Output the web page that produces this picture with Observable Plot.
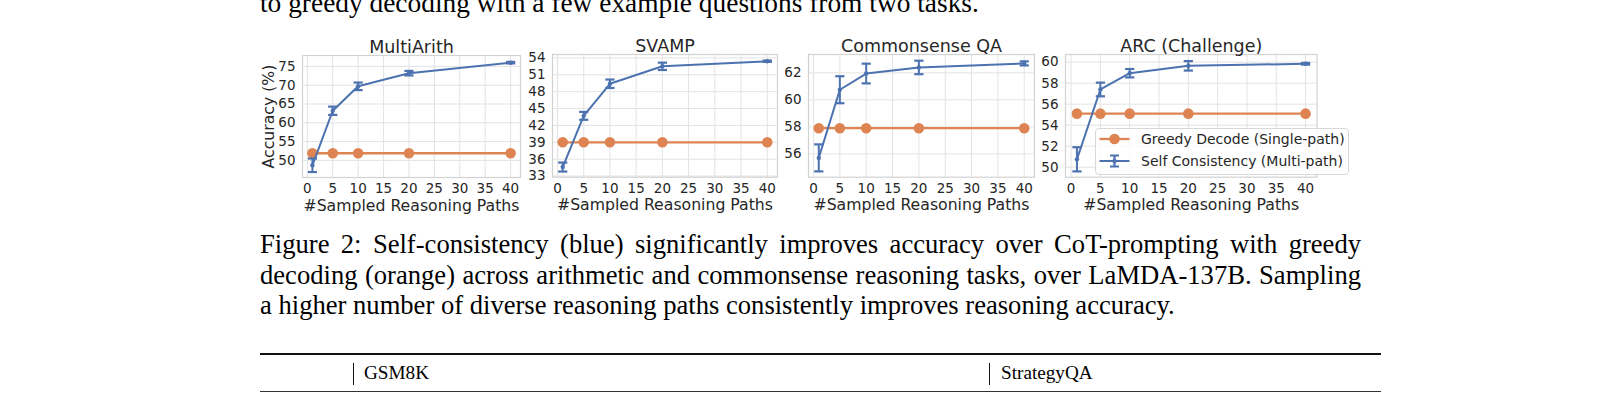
<!DOCTYPE html>
<html>
<head>
<meta charset="utf-8">
<script src="https://cdn.jsdelivr.net/npm/d3@7"></script>
<script src="https://cdn.jsdelivr.net/npm/@observablehq/plot@0.6"></script>
<style>
  html, body { margin: 0; padding: 0; background: #fff; }
  #page { position: relative; width: 1618px; height: 397px; overflow: hidden; background: #fff; }
  .serif { position: absolute; font-family: "Liberation Serif", "Times New Roman", serif; color: #000; white-space: nowrap; }
  .cap { font-size: 26.6px; line-height: 30.6px; width: 1101px; }
  .just { text-align: justify; text-align-last: justify; white-space: normal; }
  .panel { position: absolute; }
  .panel svg { overflow: visible; }
  .rule { position: absolute; background: #111; }
  #legend { position: absolute; box-sizing: border-box; border: 1px solid #d8d8d8; border-radius: 4px;
            background: rgba(255,255,255,0.8); font-family: "DejaVu Sans", sans-serif; font-size: 14px; color: #262626; }
  #legend .row { position: absolute; left: 0; height: 20px; display: flex; align-items: center; white-space: nowrap; }
</style>
</head>
<body>
<div id="page"></div>
<script>
// ---------------- data ----------------
const xs = [1, 5, 10, 20, 40];
const xTicks = [0, 5, 10, 15, 20, 25, 30, 35, 40];
const titles = ["MultiArith", "SVAMP", "Commonsense QA", "ARC (Challenge)"];
const seriesNames = ["Greedy Decode (Single-path)", "Self Consistency (Multi-path)"];
const xLabel = "#Sampled Reasoning Paths";
const yLabel = "Accuracy (%)";

const multiArithSC = [48.7, 63.2, 69.7, 73.2, 76.0];
const multiArithErr = [1.8, 1.1, 1.0, 0.6, 0.2];
const multiArithGreedy = [51.9, 51.9, 51.9, 51.9, 51.9];
const multiArithTicks = [50, 55, 60, 65, 70, 75];

const svampSC = [34.6, 43.7, 49.4, 52.5, 53.4];
const svampErr = [0.8, 0.7, 0.75, 0.65, 0.12];
const svampGreedy = [39.0, 39.0, 39.0, 39.0, 39.0];
const svampTicks = [33, 36, 39, 42, 45, 48, 51, 54];

const csqaSC = [55.7, 60.75, 61.95, 62.4, 62.7];
const csqaErr = [1.0, 1.0, 0.73, 0.5, 0.15];
const csqaGreedy = [57.9, 57.9, 57.9, 57.9, 57.9];
const csqaTicks = [56, 58, 60, 62];

const arcSC = [50.75, 57.4, 58.95, 59.65, 59.85];
const arcErr = [1.15, 0.65, 0.4, 0.45, 0.08];
const arcGreedy = [55.1, 55.1, 55.1, 55.1, 55.1];
const arcTicks = [50, 52, 54, 56, 58, 60];

const topText = "to greedy decoding with a few example questions from two tasks.";
const captionLines = [
  "Figure 2: Self-consistency (blue) significantly improves accuracy over CoT-prompting with greedy",
  "decoding (orange) across arithmetic and commonsense reasoning tasks, over LaMDA-137B. Sampling",
  "a higher number of diverse reasoning paths consistently improves reasoning accuracy."
];
const tableHeaders = ["GSM8K", "StrategyQA"];

// ---------------- style / layout ----------------
const BLUE = "#4c72b0", ORANGE = "#dd8452", INK = "#262626";
const ML = 50, MR = 10, MT = 28, MB = 45;
const panels = [
  {title: titles[0], sc: multiArithSC, err: multiArithErr, greedy: multiArithGreedy, ticks: multiArithTicks,
   yDomain: [45.45, 77.9], left: 301.8, top: 55, fw: 218, fh: 122, ylabel: yLabel},
  {title: titles[1], sc: svampSC, err: svampErr, greedy: svampGreedy, ticks: svampTicks,
   yDomain: [32.8, 54.6], left: 551.7, top: 54, fw: 225, fh: 122.7},
  {title: titles[2], sc: csqaSC, err: csqaErr, greedy: csqaGreedy, ticks: csqaTicks,
   yDomain: [54.27, 63.36], left: 807.5, top: 54, fw: 226, fh: 122.7},
  {title: titles[3], sc: arcSC, err: arcErr, greedy: arcGreedy, ticks: arcTicks,
   yDomain: [49.05, 60.73], left: 1065.3, top: 54, fw: 251.5, fh: 122.7}
];

const capSymbol = {
  draw(context, size) {
    const w = Math.sqrt(size / Math.PI);
    context.moveTo(-w, 0);
    context.lineTo(w, 0);
  }
};

const page = document.getElementById("page");

function makePanel(cfg) {
  const sc = xs.map((x, i) => ({x, y: cfg.sc[i], lo: cfg.sc[i] - cfg.err[i], hi: cfg.sc[i] + cfg.err[i]}));
  const gr = xs.map((x, i) => ({x, y: cfg.greedy[i]}));
  const marks = [
    Plot.gridX(xTicks, {stroke: "#e3e3e3", strokeOpacity: 1, strokeWidth: 1}),
    Plot.gridY(cfg.ticks, {stroke: "#e3e3e3", strokeOpacity: 1, strokeWidth: 1}),
    Plot.frame({stroke: "#d2d2d2", strokeWidth: 1.2}),
    Plot.axisX({ticks: xTicks, tickSize: 0, tickPadding: 6, label: null, fontSize: 13.5, fill: INK}),
    Plot.axisY({ticks: cfg.ticks, tickSize: 0, tickPadding: 7, label: null, fontSize: 13.5, fill: INK}),
    Plot.line(gr, {x: "x", y: "y", stroke: ORANGE, strokeWidth: 2.3}),
    Plot.dot(gr, {x: "x", y: "y", r: 5.3, fill: ORANGE, stroke: "none"}),
    Plot.line(sc, {x: "x", y: "y", stroke: BLUE, strokeWidth: 2}),
    Plot.ruleX(sc, {x: "x", y1: "lo", y2: "hi", stroke: BLUE, strokeWidth: 2}),
    Plot.dot(sc, {x: "x", y: "lo", symbol: capSymbol, r: 4.6, fill: "none", stroke: BLUE, strokeWidth: 2.2}),
    Plot.dot(sc, {x: "x", y: "hi", symbol: capSymbol, r: 4.6, fill: "none", stroke: BLUE, strokeWidth: 2.2}),
    Plot.dot(sc, {x: "x", y: "y", r: 2.2, fill: BLUE, stroke: "none"}),
    Plot.text([cfg.title], {frameAnchor: "top", textAnchor: "middle", lineAnchor: "bottom", dy: -2.6, fontSize: 17.5, fill: INK}),
    Plot.text([xLabel], {frameAnchor: "bottom", textAnchor: "middle", lineAnchor: "bottom", dy: 33, fontSize: 15.7, fill: INK})
  ];
  if (cfg.ylabel) {
    marks.push(Plot.text([cfg.ylabel], {frameAnchor: "left", textAnchor: "middle", lineAnchor: "middle",
                                         rotate: -90, dx: -34, fontSize: 15.7, fill: INK}));
  }
  const svg = Plot.plot({
    width: cfg.fw + ML + MR,
    height: cfg.fh + MT + MB,
    marginLeft: ML, marginRight: MR, marginTop: MT, marginBottom: MB,
    style: {fontFamily: "DejaVu Sans", fontSize: "13.5px", color: INK, background: "transparent", overflow: "visible"},
    x: {type: "linear", domain: [-0.95, 41.95]},
    y: {type: "linear", domain: cfg.yDomain},
    marks
  });
  const holder = document.createElement("div");
  holder.className = "panel";
  holder.style.left = (cfg.left - ML) + "px";
  holder.style.top = (cfg.top - MT) + "px";
  holder.appendChild(svg);
  page.appendChild(holder);
}
panels.forEach(makePanel);

// ---------------- legend (in ARC panel) ----------------
const legend = document.createElement("div");
legend.id = "legend";
Object.assign(legend.style, {left: "1095px", top: "127.5px", width: "254px", height: "47px"});
const rowCenters = [10.8, 32.2];
seriesNames.forEach((name, i) => {
  const row = document.createElement("div");
  row.className = "row";
  row.style.top = (rowCenters[i] - 10) + "px";
  const ns = "http://www.w3.org/2000/svg";
  const s = document.createElementNS(ns, "svg");
  s.setAttribute("width", 45); s.setAttribute("height", 20);
  s.style.flex = "none";
  const ln = document.createElementNS(ns, "line");
  ln.setAttribute("x1", 3.5); ln.setAttribute("x2", 33.5); ln.setAttribute("y1", 10); ln.setAttribute("y2", 10);
  ln.setAttribute("stroke", i === 0 ? ORANGE : BLUE); ln.setAttribute("stroke-width", i === 0 ? 2.3 : 2);
  s.appendChild(ln);
  if (i === 0) {
    const c = document.createElementNS(ns, "circle");
    c.setAttribute("cx", 18.5); c.setAttribute("cy", 10); c.setAttribute("r", 5.3); c.setAttribute("fill", ORANGE);
    s.appendChild(c);
  } else {
    const p = document.createElementNS(ns, "path");
    p.setAttribute("d", "M18.5,4.5V15.5M14,4.5H23M14,15.5H23");
    p.setAttribute("stroke", BLUE); p.setAttribute("stroke-width", 2.2); p.setAttribute("fill", "none");
    s.appendChild(p);
    const c = document.createElementNS(ns, "circle");
    c.setAttribute("cx", 18.5); c.setAttribute("cy", 10); c.setAttribute("r", 2.2); c.setAttribute("fill", BLUE);
    s.appendChild(c);
  }
  row.appendChild(s);
  const t = document.createElement("span");
  t.textContent = name;
  row.appendChild(t);
  legend.appendChild(row);
});
page.appendChild(legend);

// ---------------- surrounding paper text ----------------
function addText(text, cls, left, top, extra) {
  const d = document.createElement("div");
  d.className = cls;
  d.textContent = text;
  d.style.left = left + "px";
  d.style.top = top + "px";
  if (extra) Object.assign(d.style, extra);
  page.appendChild(d);
  return d;
}
addText(topText, "serif cap", 260, -12, {width: "auto", fontSize: "27.4px"});
addText(captionLines[0], "serif cap just", 260, 229);
addText(captionLines[1], "serif cap just", 260, 259.6);
addText(captionLines[2], "serif cap", 260, 290.2, {width: "auto"});

function addRule(left, top, width, height, color) {
  const r = document.createElement("div");
  r.className = "rule";
  Object.assign(r.style, {left: left + "px", top: top + "px", width: width + "px", height: height + "px"});
  if (color) r.style.background = color;
  page.appendChild(r);
}
addRule(260, 352.5, 1121, 2.2);
addRule(260, 390.5, 1121, 1.4, "#333");
addRule(353, 363, 1.2, 22);
addRule(988.5, 363, 1.2, 22);
addText(tableHeaders[0], "serif", 364, 362, {fontSize: "19.2px", lineHeight: "22px"});
addText(tableHeaders[1], "serif", 1001, 362, {fontSize: "19.2px", lineHeight: "22px"});
</script>
</body>
</html>
